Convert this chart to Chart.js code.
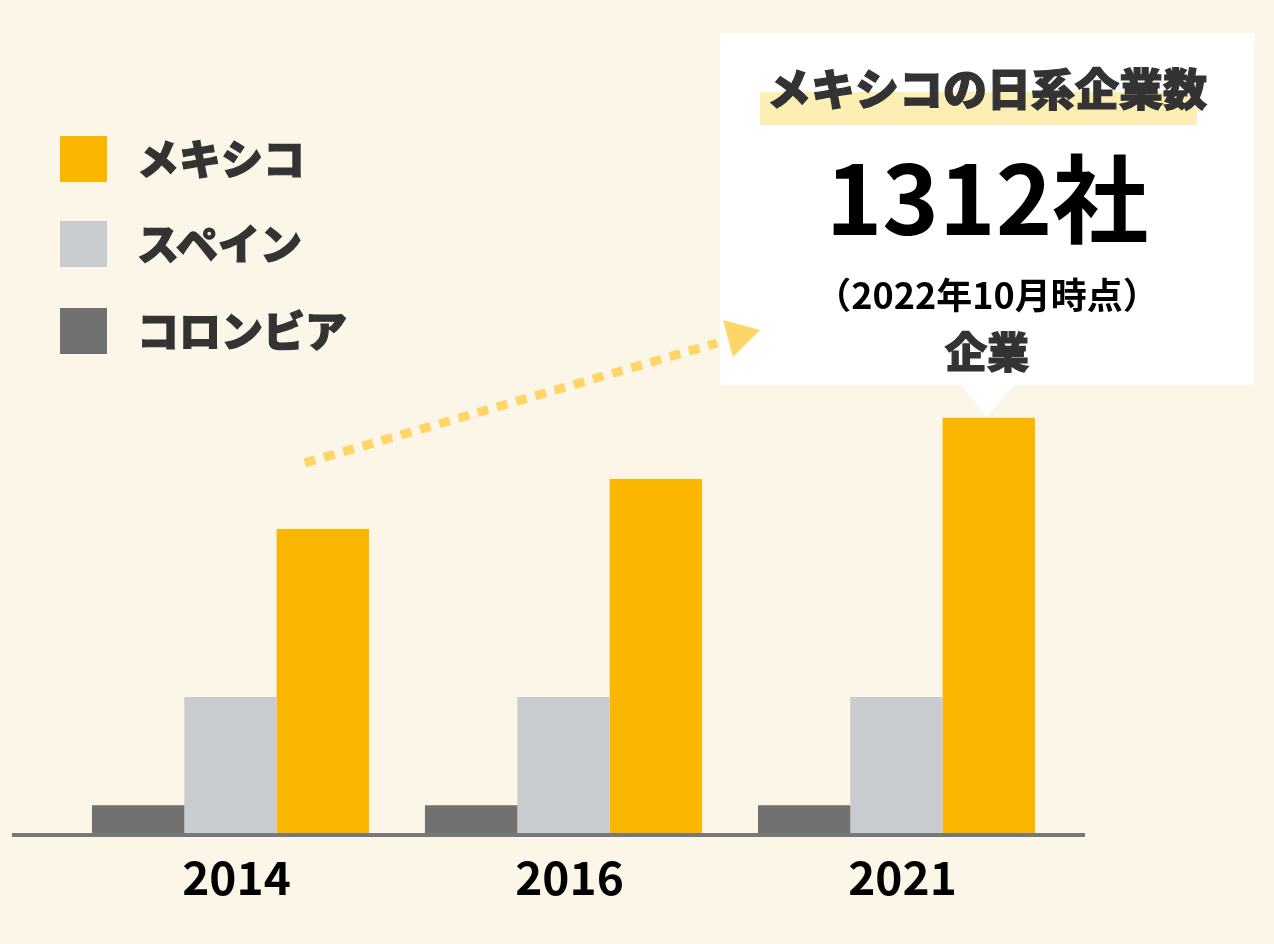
<!DOCTYPE html>
<html><head><meta charset="utf-8">
<script src="https://cdn.jsdelivr.net/npm/chart.js@4"></script>
<style>
html,body{margin:0;padding:0;background:#fcf6e9;}
#wrap{position:relative;width:1274px;height:944px;overflow:hidden;font-family:"Noto Sans CJK JP","Noto Sans",sans-serif;}
canvas{position:absolute;left:0;top:0;}
.t{position:absolute;white-space:nowrap;font-weight:700;}
.h{font-weight:900;-webkit-text-stroke:1.2px #333;filter:blur(0.5px);}
.sq{position:absolute;left:60px;width:47px;height:46px;}
.c{left:720px;width:534px;text-align:center;}
</style></head><body>
<div id="wrap">
<canvas id="c" width="1274" height="944"></canvas>
<div id="legend"></div>
<div id="callout"></div>
</div>
<script>
const categories = ['2014', '2016', '2021'];
const seriesNames = ['コロンビア', 'スペイン', 'メキシコ'];
const seriesColors = ['#717171', '#c8cccf', '#fbb600'];
const colombia = [88, 88, 88];
const spain = [430, 430, 430];
const mexico = [961, 1119, 1312];
const calloutTitle = 'メキシコの日系企業数';
const calloutUnit = '社';
const calloutNote = '（2022年10月時点）';
const calloutFoot = '企業';

const seriesValues = [colombia, spain, mexico];

const decor = {
  id: 'decor',
  afterDatasetsDraw(chart) {
    const ctx = chart.ctx;
    const y0 = chart.scales.y.getPixelForValue(0);
    ctx.save();
    // baseline
    ctx.strokeStyle = '#787878';
    ctx.lineWidth = 4;
    ctx.beginPath();
    ctx.moveTo(12, y0 + 2);
    ctx.lineTo(1085, y0 + 2);
    ctx.stroke();
    // callout box
    const mx = chart.getDatasetMeta(2).data;
    const last = mx[mx.length - 1];
    ctx.fillStyle = '#ffffff';
    ctx.fillRect(720, 33, 534, 352);
    ctx.beginPath();
    ctx.moveTo(last.x - 29, 384);
    ctx.lineTo(last.x + 26, 384);
    ctx.lineTo(last.x - 2, last.y - 1);
    ctx.closePath();
    ctx.fill();
    // dotted arrow
    const first = mx[0];
    const sx = first.x - 18, sy = first.y - 66;
    const ex = 717, ey = 343;
    ctx.strokeStyle = '#fed668';
    ctx.lineWidth = 9;
    ctx.setLineDash([11, 9]);
    ctx.beginPath();
    ctx.moveTo(sx, sy);
    ctx.lineTo(ex, ey);
    ctx.stroke();
    ctx.setLineDash([]);
    ctx.fillStyle = '#fed668';
    ctx.beginPath();
    ctx.moveTo(723, 320);
    ctx.lineTo(760, 330);
    ctx.lineTo(733, 357);
    ctx.closePath();
    ctx.fill();
    ctx.restore();
  }
};

new Chart(document.getElementById('c'), {
  type: 'bar',
  data: {
    labels: categories,
    datasets: seriesNames.map((n, i) => ({
      label: n,
      data: seriesValues[i],
      backgroundColor: seriesColors[i],
      borderWidth: 0,
      categoryPercentage: 0.832,
      barPercentage: 1
    }))
  },
  options: {
    responsive: false,
    animation: false,
    devicePixelRatio: 1,
    layout: { padding: { left: 64, right: 211, top: 390, bottom: 0 } },
    plugins: { legend: { display: false }, tooltip: { enabled: false } },
    scales: {
      x: {
        grid: { display: false, drawTicks: false },
        border: { display: false },
        ticks: { color: '#000', padding: 17, labelOffset: 6, font: { family: '"Noto Sans CJK JP"', size: 46, weight: 'bold' } },
        afterFit(s) { s.height = 111; }
      },
      y: { display: false, min: 0, max: 1400 }
    }
  },
  plugins: [decor]
});

// legend (reversed order: メキシコ, スペイン, コロンビア)
const lg = document.getElementById('legend');
const sqTops = [136, 221, 308];
const txtTops = [135.5, 220.5, 307.5];
[2, 1, 0].forEach((si, k) => {
  const s = document.createElement('div');
  s.className = 'sq';
  s.style.top = sqTops[k] + 'px';
  s.style.background = seriesColors[si];
  lg.appendChild(s);
  const t = document.createElement('div');
  t.className = 't h';
  t.style.cssText = `left:137px;top:${txtTops[k]}px;font-size:42px;line-height:42px;color:#333;`;
  t.textContent = seriesNames[si];
  lg.appendChild(t);
});

// callout texts
const co = document.getElementById('callout');
co.innerHTML = `
<div style="position:absolute;left:760px;top:92px;width:437px;height:33px;background:#fdeeb4;"></div>
<div class="t c h" style="top:65px;font-size:44px;line-height:44px;color:#333;">${calloutTitle}</div>
<div class="t c" style="top:146px;font-size:96px;line-height:96px;color:#000;">${mexico[mexico.length-1]}${calloutUnit}</div>
<div class="t c" style="top:275px;font-size:36px;line-height:36px;color:#000;">${calloutNote}</div>
<div class="t c h" style="top:329px;font-size:42px;line-height:42px;color:#333;">${calloutFoot}</div>
`;
</script>
</body></html>
